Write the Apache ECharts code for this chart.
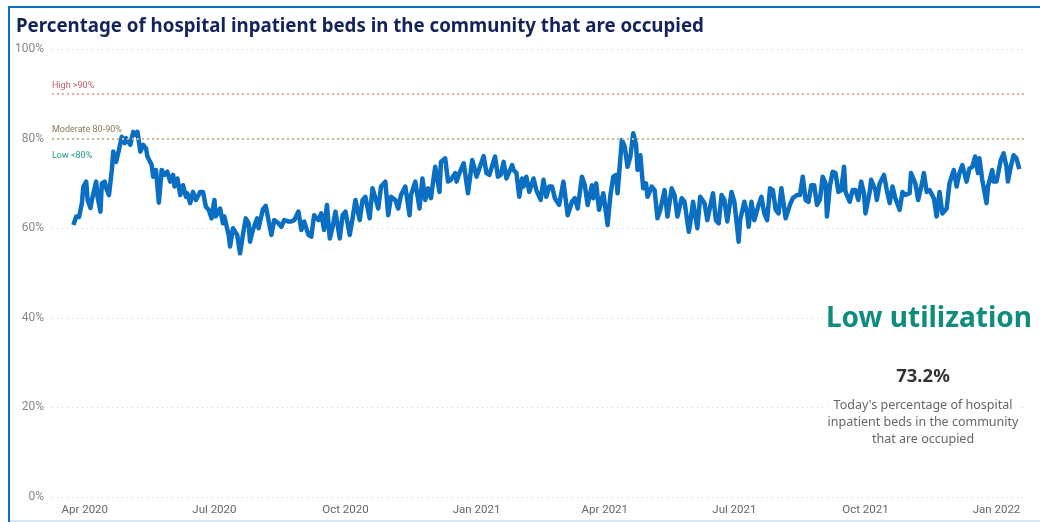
<!DOCTYPE html>
<html>
<head>
<meta charset="utf-8">
<script src="https://cdn.jsdelivr.net/npm/echarts@6/dist/echarts.min.js"></script>
<style>
html,body{margin:0;padding:0;background:#fff;}
#chart{width:1040px;height:522px;}
</style>
</head>
<body>
<div id="chart"></div>
<script>
// Days counted from 1 Apr 2020
const dayOffsets = [-8,-6,-4,-2,-1,1,2,4,5,8,9,11,12,14,15,17,19,20,22,24,26,28,29,32,34,36,37,39,41,43,44,47,48,50,52,54,56,58,60,62,63,65,67,69,71,72,74,76,78,81,83,85,87,89,91,92,95,97,98,101,102,104,107,109,111,113,115,116,118,121,122,125,127,129,131,133,136,138,140,143,145,147,150,152,154,157,159,161,164,166,168,170,172,174,176,179,181,183,186,188,190,193,195,197,200,202,204,206,208,211,213,215,218,220,222,225,228,229,232,235,237,239,241,243,245,246,249,250,253,255,257,260,261,263,266,267,269,272,273,275,277,280,282,284,288,290,292,294,296,298,300,301,303,305,307,308,310,312,315,317,320,322,324,326,328,330,333,336,339,342,344,346,349,351,353,356,357,359,361,364,365,367,369,371,373,374,377,379,381,383,385,387,388,390,392,394,395,398,400,402,404,407,409,412,414,416,419,421,424,425,427,430,432,435,437,438,441,443,445,447,449,451,454,456,459,460,463,465,466,468,470,473,475,477,479,481,483,485,487,489,492,493,495,497,500,502,504,506,508,510,512,514,516,518,520,521,523,525,527,529,531,533,534,537,539,541,543,545,547,548,551,552,555,556,558,561,563,565,567,569,572,574,576,579,580,583,585,588,589,591,593,596,598,600,602,605,607,610,612,614,616,619,621,623,625,627,628,630,633,634,637,638,640,643,645,647,648,650,652,654,656];
const occupancy = [60.7,62.6,62.5,65.6,69.3,70.4,66.3,64.5,66.3,70.4,67,63.7,70,70.4,69,67.4,73,77.1,74.8,77.5,80.4,79,80.1,78.6,81.5,80.8,81.5,77.1,78.6,77.8,76,74.1,71.5,73,65.7,73,71.9,72.6,70.4,71.9,69.3,71.1,67.4,69.6,67,67.8,65.6,68.1,66.3,68.1,68.1,64.8,64.1,62.2,66.3,62.6,64.4,61.1,62.6,58.5,55.9,60,58.5,54.4,58.5,62.2,61.1,57,59.6,62.2,60,64.2,65,61.8,58.5,61.8,61.1,60.3,61.8,61.5,61.5,61.8,63.7,59.6,61.5,58.5,58.1,62.9,61.8,63.3,59.6,65.2,57.7,60.3,63.7,57.7,62.9,63.7,58.5,62.2,66.3,61.8,66.3,67,62.2,68.9,66.7,64.4,69.3,70.4,62.9,67,66.3,64.4,67.4,69.3,62.9,67.4,70.4,64.4,71.1,66.3,68.9,66.7,71.5,73.7,68.1,74.8,75.6,70.4,70.8,72.3,70.4,72.3,74.5,74.5,67.8,75.2,74.1,71.5,73.3,76.1,72.3,71.9,76,71.5,71.9,74.8,71.1,72.6,74.1,73,72.3,67,71.1,69.3,71.5,68.1,71.1,68.5,66.3,70.8,67,69.3,69.3,66.7,65.2,70.4,62.9,65.9,66.7,64.4,71.5,69.6,65.2,69.6,66.7,70,64.1,67.8,65.6,60.7,67.4,71.5,71.9,67.8,79.7,78.2,73.7,76,81.2,78.6,73,76.3,68.9,70,67,69.3,68.5,62.2,64.1,68.5,62.6,68.9,67.4,62.6,66.7,65.9,59.2,61.1,65.9,60,67,65.6,61.8,62.2,67.8,61.8,61.1,67.4,66.3,61.5,68.1,65.9,57,61.8,65.9,63.3,60.3,65.9,61.8,65.2,67,63.3,61.8,68.9,68.5,64.1,63.3,68.9,62.2,62.6,65.2,66.7,67.4,67.4,71.5,66.3,65.9,69.6,69.6,65.2,66.3,71.5,70,62.6,69.3,72.6,72.3,68.1,68.5,73.7,68.1,65.9,68.5,68.5,66.3,70.4,67.8,63.3,68.1,70.8,68.5,66.3,70,71.9,68.5,65.6,69.3,66.7,64.1,68.1,67.4,67.8,72.3,70,66.3,70.4,72.3,68.1,68.5,66.7,62.6,68.1,63.3,64.4,70,73,69.3,72.3,74.1,70.4,73.3,73.7,76,72.3,75.6,70.8,65.6,69.3,73,70.4,70.4,75.2,76.7,73.7,70.4,73.7,76.3,75.6,73.2];

const xTickDates = ['2020-04-01','2020-07-01','2020-10-01','2021-01-01','2021-04-01','2021-07-01','2021-10-01','2022-01-01'];
const xTickLabels = ['Apr 2020','Jul 2020','Oct 2020','Jan 2021','Apr 2021','Jul 2021','Oct 2021','Jan 2022'];
const yTicks = [0,20,40,60,80,100];

const thresholdHigh = 90;
const thresholdModerate = 80;
const labelHigh = 'High >90%';
const labelModerate = 'Moderate 80-90%';
const labelLow = 'Low <80%';

const statusText = 'Low utilization';
const currentValue = '73.2%';
const currentDesc = "Today's percentage of hospital\ninpatient beds in the community\nthat are occupied";

function dayNumber(s){
  const p = s.split('-').map(Number);
  return Math.round((Date.UTC(p[0], p[1]-1, p[2]) - Date.UTC(2020, 3, 1)) / 86400000);
}
const tickDays = xTickDates.map(dayNumber);
const seriesData = dayOffsets.map((d,i)=>[d, occupancy[i]]);

const chart = echarts.init(document.getElementById('chart'), null, {renderer:'canvas'});
const axisFont = 'Roboto, "DejaVu Sans", sans-serif';
chart.setOption({
  animation:false,
  backgroundColor:'#fff',
  title:{
    text:'Percentage of hospital inpatient beds in the community that are occupied',
    left:11, top:12,
    textStyle:{fontFamily:'"Noto Sans", "Open Sans", sans-serif', fontSize:18.7, fontWeight:'bold', color:'#13235B'}
  },
  grid:{left:52, right:15, top:49, bottom:25, containLabel:false},
  xAxis:{
    type:'value',
    min:-23, max:660,
    axisLine:{show:false}, axisTick:{show:false}, splitLine:{show:false},
    axisLabel:{
      customValues: tickDays,
      color:'#666', fontSize:11.5, fontFamily:axisFont, margin:7,
      formatter:function(v){
        const i = tickDays.indexOf(Math.round(v));
        return i >= 0 ? xTickLabels[i] : '';
      }
    }
  },
  yAxis:{
    type:'value', min:yTicks[0], max:yTicks[yTicks.length-1], interval:20,
    axisLine:{show:false}, axisTick:{show:false},
    axisLabel:{formatter:'{value}%', color:'#888', fontSize:12, fontFamily:axisFont, margin:8},
    splitLine:{show:true, lineStyle:{type:[1,4], color:'#d0d0d0', width:1}}
  },
  series:[{
    type:'line',
    data:seriesData,
    showSymbol:false,
    smooth:false,
    lineStyle:{color:'#0A6FC2', width:4.5, join:'round'},
    itemStyle:{color:'#0A6FC2'},
    z:3,
    markLine:{
      silent:true, symbol:'none', animation:false,
      data:[
        {yAxis:thresholdHigh, lineStyle:{color:'#F0AAAA', type:[2,3], width:2},
         label:{formatter:labelHigh, position:'insideStartTop', distance:[0,4], color:'#C45A6E', fontSize:9, fontFamily:axisFont}},
        {yAxis:thresholdModerate, lineStyle:{color:'#C9BC8C', type:[2,3], width:2},
         label:{formatter:labelModerate, position:'insideStartTop', distance:[0,4], color:'#8A7A55', fontSize:9, fontFamily:axisFont}},
        {yAxis:thresholdModerate, lineStyle:{color:'rgba(0,0,0,0)', width:0},
         label:{show:true, formatter:labelLow, position:'insideStartBottom', distance:[0,13], color:'#1F9A8C', fontSize:9, fontFamily:axisFont}}
      ]
    }
  }],
  graphic:[
    {type:'rect', shape:{x:8, y:6, width:1032, height:2}, style:{fill:'#0B6FC4'}, z:10},
    {type:'rect', shape:{x:8, y:6, width:2, height:516}, style:{fill:'#0B6FC4'}, z:10},
    {type:'rect', shape:{x:10, y:520, width:1030, height:2}, style:{fill:'#D6E6F4'}, z:10},
    {type:'text', x:929, y:319, z:20, style:{text:statusText, textAlign:'center', textVerticalAlign:'middle', fill:'#0F8C7C', font:'bold 28px "Noto Sans", "Open Sans", sans-serif', backgroundColor:'#fff'}},
    {type:'text', x:923, y:377, z:20, style:{text:currentValue, textAlign:'center', textVerticalAlign:'middle', fill:'#333', font:'bold 18.5px "Noto Sans", "Open Sans", sans-serif'}},
    {type:'text', x:923, y:422, z:20, style:{text:currentDesc, textAlign:'center', textVerticalAlign:'middle', fill:'#666', font:'12.5px "Noto Sans", "Open Sans", sans-serif', lineHeight:17, backgroundColor:'#fff'}}
  ]
});
</script>
</body>
</html>
